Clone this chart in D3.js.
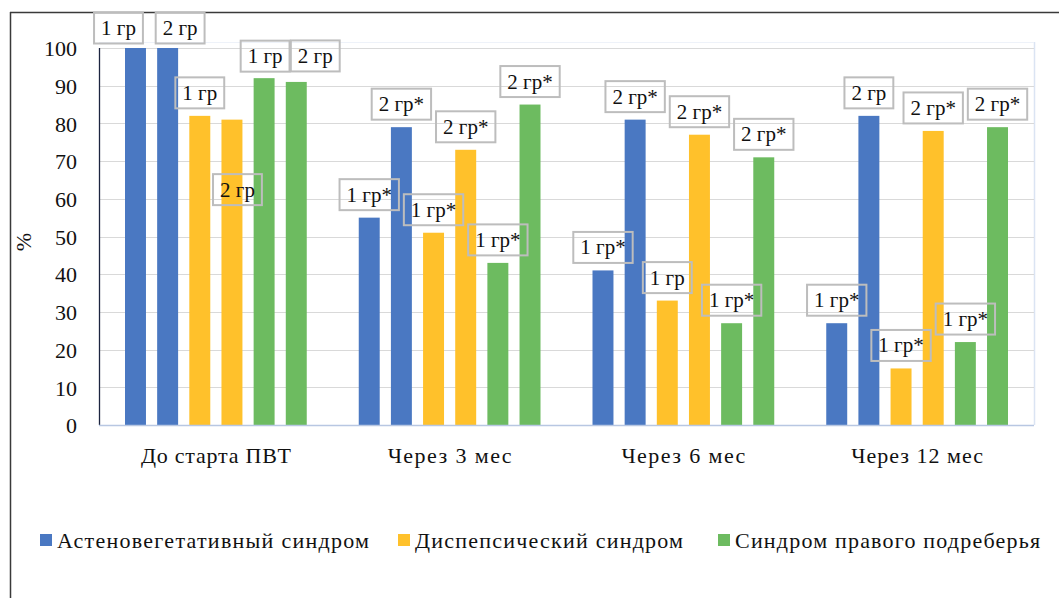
<!DOCTYPE html>
<html>
<head>
<meta charset="utf-8">
<script src="https://cdn.jsdelivr.net/npm/d3@7"></script>
<style>
  html, body { margin: 0; padding: 0; background: #fff; }
  svg { display: block; }
  svg text { font-family: "Liberation Serif", "Times New Roman", "DejaVu Serif", serif; fill: #111; }
</style>
</head>
<body>
<script>
// ---------- data ----------
const categories = ["До старта ПВТ", "Через 3 мес", "Через 6 мес", "Через 12 мес"];
const syndromes = ["Астеновегетативный синдром", "Диспепсический синдром", "Синдром правого подреберья"];
const yTicks = [0, 10, 20, 30, 40, 50, 60, 70, 80, 90, 100];

// values (%) per syndrome and group, one entry per category
const asthenoGroup1 = [100, 55, 41, 27];
const asthenoGroup2 = [100, 79, 81, 82];
const dyspepsiaGroup1 = [82, 51, 33, 15];
const dyspepsiaGroup2 = [81, 73, 77, 78];
const rightHypoGroup1 = [92, 43, 27, 22];
const rightHypoGroup2 = [91, 85, 71, 79];

// label texts per bar
const asthenoLabels1 = ["1 гр", "1 гр*", "1 гр*", "1 гр*"];
const asthenoLabels2 = ["2 гр", "2 гр*", "2 гр*", "2 гр"];
const dyspepsiaLabels1 = ["1 гр", "1 гр*", "1 гр", "1 гр*"];
const dyspepsiaLabels2 = ["2 гр", "2 гр*", "2 гр*", "2 гр*"];
const rightHypoLabels1 = ["1 гр", "1 гр*", "1 гр*", "1 гр*"];
const rightHypoLabels2 = ["2 гр", "2 гр*", "2 гр*", "2 гр*"];

// ---------- styling / layout (not data) ----------
const FONT = '"Liberation Serif", "Times New Roman", "DejaVu Serif", serif';
const colors = ["#4a78c2", "#ffc12b", "#6dbb60"];
// manual label nudges (px) for the first category, as in the original
const labelNudge = [[-17, 3], [12.5, 3], [0, 0], [5.5, 93], [1, 1], [19, -3]];
// widths the original texts occupy (px)
const catTextWidth = [150, 124, 124, 132];
const legendTextWidth = [312, 268, 305];
const legendX = [40, 398, 718];

const W = 1059, H = 598;
const plot = { left: 99, right: 1034, top: 48, bottom: 425 };

const seriesVals = [asthenoGroup1, asthenoGroup2, dyspepsiaGroup1, dyspepsiaGroup2, rightHypoGroup1, rightHypoGroup2];
const seriesLabels = [asthenoLabels1, asthenoLabels2, dyspepsiaLabels1, dyspepsiaLabels2, rightHypoLabels1, rightHypoLabels2];

const svg = d3.select("body").append("svg").attr("width", W).attr("height", H)
  .style("font-family", FONT);

// outer frame (top and left edges)
svg.append("line").attr("x1", 10).attr("x2", W).attr("y1", 12.5).attr("y2", 12.5)
  .attr("stroke", "#3a3a3a").attr("stroke-width", 1.5);
svg.append("line").attr("x1", 10.5).attr("x2", 10.5).attr("y1", 12).attr("y2", H)
  .attr("stroke", "#3a3a3a").attr("stroke-width", 1.5);

const x0 = d3.scaleBand().domain(categories).range([plot.left, plot.right]).paddingInner(0).paddingOuter(0);
const x1 = d3.scaleBand().domain(d3.range(6)).range([26, x0.bandwidth() - 26]).paddingInner(0.348).paddingOuter(0);
const y = d3.scaleLinear().domain([0, 100]).range([plot.bottom, plot.top]);

// plot area faint border
svg.append("line").attr("x1", plot.right + 0.5).attr("x2", plot.right + 0.5)
  .attr("y1", plot.top - 6).attr("y2", plot.bottom).attr("stroke", "#dbe4f3").attr("stroke-width", 1.5);
svg.append("line").attr("x1", plot.left).attr("x2", plot.right)
  .attr("y1", plot.top - 6 + 0.5).attr("y2", plot.top - 6 + 0.5).attr("stroke", "#eef2f9").attr("stroke-width", 1);

// gridlines
svg.append("g").selectAll("line").data(yTicks.filter(t => t > 0)).join("line")
  .attr("x1", plot.left).attr("x2", plot.right)
  .attr("y1", d => Math.round(y(d)) + 0.5).attr("y2", d => Math.round(y(d)) + 0.5)
  .attr("stroke", "#d9d9d9").attr("stroke-width", 1);

// y axis
const yAxis = d3.axisLeft(y).tickValues(yTicks).tickSize(0).tickPadding(0);
const gy = svg.append("g").attr("transform", `translate(${plot.left},0)`).call(yAxis)
  .attr("font-family", FONT).attr("font-size", 22);
gy.select(".domain").remove();
gy.selectAll("text").attr("x", -22).attr("dy", "0.35em").attr("fill", "#111");
svg.append("line").attr("x1", plot.left + 0.5).attr("x2", plot.left + 0.5)
  .attr("y1", plot.top).attr("y2", plot.bottom).attr("stroke", "#1c2540").attr("stroke-width", 1.3);

// bars
const barG = svg.append("g");
categories.forEach((c, ci) => {
  seriesVals.forEach((vals, si) => {
    barG.append("rect")
      .attr("x", x0(c) + x1(si))
      .attr("y", y(vals[ci]))
      .attr("width", x1.bandwidth())
      .attr("height", y(0) - y(vals[ci]))
      .attr("fill", colors[Math.floor(si / 2)]);
  });
});

// x axis baseline
svg.append("line").attr("x1", plot.left).attr("x2", plot.right)
  .attr("y1", plot.bottom + 0.5).attr("y2", plot.bottom + 0.5)
  .attr("stroke", "#b8c7e2").attr("stroke-width", 1.5);

// x axis labels
const xAxis = d3.axisBottom(x0).tickSize(0).tickPadding(0);
const gx = svg.append("g").attr("transform", `translate(0,${plot.bottom})`).call(xAxis)
  .attr("font-family", FONT).attr("font-size", 22);
gx.select(".domain").remove();
gx.selectAll("text").attr("y", 38).attr("dy", 0).attr("fill", "#111")
  .attr("textLength", (d, i) => catTextWidth[i]).attr("lengthAdjust", "spacing");

// y axis title
svg.append("text").attr("transform", "translate(31,242) rotate(-90)")
  .attr("text-anchor", "middle").attr("font-size", 22).text("%");

// data labels with boxes
const labG = svg.append("g");
categories.forEach((c, ci) => {
  seriesVals.forEach((vals, si) => {
    const cx = x0(c) + x1(si) + x1.bandwidth() / 2 + (ci === 0 ? labelNudge[si][0] : 0);
    const cy = y(vals[ci]) - 23 + (ci === 0 ? labelNudge[si][1] : 0);
    const g = labG.append("g");
    const t = g.append("text").attr("x", cx).attr("y", cy + 7)
      .attr("text-anchor", "middle").attr("font-size", 21).text(seriesLabels[si][ci]);
    const tw = t.node().getComputedTextLength();
    const bw = tw + 14, bh = 31;
    g.insert("rect", "text").attr("x", cx - bw / 2).attr("y", cy - bh / 2)
      .attr("width", bw).attr("height", bh)
      .attr("fill", "none").attr("stroke", "#bdbdbd").attr("stroke-width", 2);
  });
});

// legend
const legG = svg.append("g");
syndromes.forEach((s, i) => {
  const lx = legendX[i];
  legG.append("rect").attr("x", lx).attr("y", 534).attr("width", 12).attr("height", 12).attr("fill", colors[i]);
  legG.append("text").attr("x", lx + 17).attr("y", 548).attr("font-size", 22)
    .attr("textLength", legendTextWidth[i]).attr("lengthAdjust", "spacing").text(s);
});
</script>
</body>
</html>
